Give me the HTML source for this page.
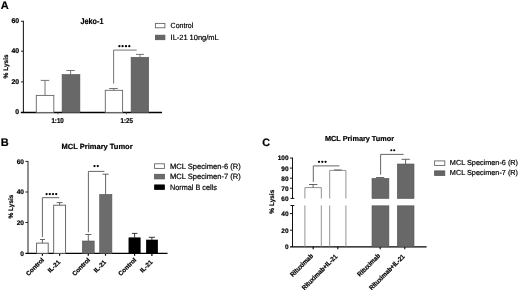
<!DOCTYPE html>
<html><head><meta charset="utf-8">
<style>
html,body{margin:0;padding:0;background:#fff;width:520px;height:290px;overflow:hidden}
svg{display:block;filter:grayscale(1) blur(0.3px)}
text{font-family:"Liberation Sans",sans-serif;fill:#000;stroke:#000;stroke-width:0.2px;text-rendering:geometricPrecision}
.b{font-weight:bold}
</style></head><body>
<svg width="520" height="290" viewBox="0 0 520 290">
<rect width="520" height="290" fill="#fff"/>

<!-- ================= PANEL A ================= -->
<text class="b" x="0.8" y="9.4" font-size="11">A</text>
<text class="b" x="80.6" y="23.6" font-size="8.3" textLength="22.8" lengthAdjust="spacingAndGlyphs">Jeko-1</text>
<!-- axes -->
<path d="M23.4 20.7V112.5" stroke="#222" stroke-width="1.1" fill="none"/>
<path d="M21 21.3H23.4M21 51.2H23.4M21 81.9H23.4" stroke="#222" stroke-width="1" fill="none"/>
<path d="M20.8 112.5H162" stroke="#000" stroke-width="1.35" fill="none"/>
<path d="M57.9 112.5V114.4M126.5 112.5V114.4" stroke="#555" stroke-width="0.9" fill="none"/>
<g class="b" font-size="6.9" text-anchor="end">
  <text x="19.2" y="23.2">60</text>
  <text x="19.2" y="53.2">40</text>
  <text x="19.2" y="83.8">20</text>
  <text x="19.2" y="114.4">0</text>
</g>
<text class="b" font-size="6.5" text-anchor="middle" transform="translate(8.1,66.4) rotate(-90)">% Lysis</text>
<g class="b" font-size="7.1">
  <text x="51.4" y="122.6" textLength="12.4" lengthAdjust="spacingAndGlyphs">1:10</text>
  <text x="120.6" y="122.6" textLength="12.4" lengthAdjust="spacingAndGlyphs">1:25</text>
</g>
<!-- bars -->
<g stroke="#666" stroke-width="0.9" fill="#fff">
  <rect x="36.3" y="95.4" width="17.5" height="17"/>
  <rect x="105.3" y="90.3" width="17.3" height="22.1"/>
</g>
<g stroke="#555" stroke-width="0.6" fill="#686868">
  <rect x="62.1" y="74.5" width="17.8" height="38"/>
  <rect x="131.1" y="57.3" width="17.6" height="55.2"/>
</g>
<g stroke="#666" stroke-width="0.9" fill="none">
  <path d="M45 95.4V80.4M40.8 80.4H49.3"/>
  <path d="M70.6 74.5V70.5M66.3 70.5H74.8"/>
  <path d="M113.8 90.3V88.5M109.2 88.5H117.8"/>
  <path d="M140 57.3V54.4M136 54.4H144"/>
  <path d="M113.6 83.6V50.1H136.7"/>
</g>
<g fill="#000"><circle cx="119.4" cy="46.2" r="1.15"/><circle cx="122.6" cy="46.2" r="1.15"/><circle cx="126.0" cy="46.2" r="1.15"/><circle cx="129.3" cy="46.2" r="1.15"/></g>
<!-- legend -->
<rect x="155.4" y="23.4" width="9.5" height="4.4" fill="#fff" stroke="#666" stroke-width="0.9"/>
<rect x="155.4" y="35.2" width="9.5" height="4.5" fill="#666" stroke="#555" stroke-width="0.8"/>
<g font-size="7.5">
  <text x="170.6" y="28" textLength="22.7" lengthAdjust="spacingAndGlyphs">Control</text>
  <text x="170.6" y="39.9" textLength="48" lengthAdjust="spacing">IL-21 10ng/mL</text>
</g>

<!-- ================= PANEL B ================= -->
<text class="b" x="0.8" y="146.2" font-size="11">B</text>
<text class="b" x="97.1" y="148.8" font-size="7.5" text-anchor="middle">MCL Primary Tumor</text>
<path d="M28 160.9V253.3" stroke="#333" stroke-width="1.1" fill="none"/>
<path d="M25.4 161.4H28M25.4 192H28M25.4 222.5H28" stroke="#222" stroke-width="1" fill="none"/>
<path d="M25.4 253.3H167.5" stroke="#000" stroke-width="1.3" fill="none"/>
<path d="M42.4 253.3V255.8M59.6 253.3V255.8M88.3 253.3V255.8M105.5 253.3V255.8M134.6 253.3V255.8M151.9 253.3V255.9" stroke="#000" stroke-width="1.2" fill="none"/>
<g class="b" font-size="6.6" text-anchor="end">
  <text x="24" y="163.8">60</text>
  <text x="24" y="194.4">40</text>
  <text x="24" y="224.8">20</text>
  <text x="24" y="255.6">0</text>
</g>
<text class="b" font-size="6.5" text-anchor="middle" transform="translate(12.9,206.5) rotate(-90)">% Lysis</text>
<g stroke="#5a5a5a" stroke-width="0.9" fill="#fff">
  <rect x="36.6" y="243.1" width="11.6" height="10.2"/>
  <rect x="53.7" y="205.2" width="11.9" height="48.1"/>
</g>
<g stroke="#555" stroke-width="0.6" fill="#6c6c6c">
  <rect x="82.3" y="241" width="11.9" height="12.3"/>
  <rect x="99.7" y="194.4" width="12.2" height="58.9"/>
</g>
<g stroke="#000" stroke-width="0.6" fill="#000">
  <rect x="128.9" y="237.8" width="11.3" height="15.5"/>
  <rect x="146.3" y="240" width="11.4" height="13.3"/>
</g>
<g stroke="#555" stroke-width="0.9" fill="none">
  <path d="M42.4 243.1V239.5M40 239.5H45"/>
  <path d="M59.6 205.2V202.6M56.7 202.6H62.6"/>
  <path d="M88.3 241V234.5M85.3 234.5H91.4"/>
  <path d="M105.6 194.4V174.2M102.5 174.2H108.7"/>
  <path d="M42.4 237V197.7H59.3"/>
  <path d="M88.4 232.3V171.4H104.3"/>
</g>
<g stroke="#222" stroke-width="0.9" fill="none">
  <path d="M134.6 237.8V233.4M131.9 233.4H137.4"/>
  <path d="M151.9 240V237.3M148.8 237.3H155"/>
</g>
<g fill="#000"><circle cx="46.6" cy="194.1" r="1.15"/><circle cx="49.8" cy="194.1" r="1.15"/><circle cx="53.0" cy="194.1" r="1.15"/><circle cx="56.2" cy="194.1" r="1.15"/></g>
<g fill="#000"><circle cx="94.5" cy="166.1" r="1.15"/><circle cx="97.8" cy="166.1" r="1.15"/></g>
<g class="b" font-size="6.3" text-anchor="end">
  <text transform="translate(44.4,260.4) rotate(-45)">Control</text>
  <text transform="translate(60.7,262.6) rotate(-45)">IL-21</text>
  <text transform="translate(90.5,260.4) rotate(-45)">Control</text>
  <text transform="translate(106.6,262.6) rotate(-45)">IL-21</text>
  <text transform="translate(136.7,260.4) rotate(-45)">Control</text>
  <text transform="translate(152.9,262.6) rotate(-45)">IL-21</text>
</g>
<rect x="154.6" y="163.8" width="9.8" height="4.6" fill="#fff" stroke="#666" stroke-width="0.9"/>
<rect x="154.6" y="174.3" width="9.8" height="4.6" fill="#6c6c6c" stroke="#555" stroke-width="0.8"/>
<rect x="154.6" y="184.9" width="9.8" height="4.6" fill="#000" stroke="#000" stroke-width="0.8"/>
<g font-size="7.7">
  <text x="170" y="168.6" textLength="70.8" lengthAdjust="spacingAndGlyphs">MCL Specimen-6 (R)</text>
  <text x="170" y="179.1" textLength="70.8" lengthAdjust="spacingAndGlyphs">MCL Specimen-7 (R)</text>
  <text x="170" y="189.8" textLength="46.8" lengthAdjust="spacingAndGlyphs">Normal B cells</text>
</g>

<!-- ================= PANEL C ================= -->
<text class="b" x="262.3" y="145.8" font-size="10.8">C</text>
<text class="b" x="359.5" y="141.4" font-size="7.3" text-anchor="middle">MCL Primary Tumor</text>
<g stroke="#111" stroke-width="1" fill="none">
  <path d="M292.5 157.6V198.4M290.5 198.4H294.3"/>
  <path d="M292.5 205.5V246.8M290.5 205.5H294.3"/>
  <path d="M290 158.1H292.5M290 168.1H292.5M290 178.2H292.5M290 188.2H292.5"/>
  <path d="M290 213.6H292.5M290 230.2H292.5"/>
</g>
<path d="M290 246.85H426.6" stroke="#000" stroke-width="1.3" fill="none"/>
<path d="M313.2 246.8V249.2M337.8 246.8V249.2M380.2 246.8V249.2M404.8 246.8V249.2" stroke="#000" stroke-width="1.1" fill="none"/>
<g class="b" font-size="6.5" text-anchor="end">
  <text x="288.6" y="160.4">100</text>
  <text x="288.6" y="170.5">90</text>
  <text x="288.6" y="180.6">80</text>
  <text x="288.6" y="190.6">70</text>
  <text x="288.6" y="200.7">60</text>
  <text x="288.6" y="216">40</text>
  <text x="288.6" y="232.6">20</text>
  <text x="288.6" y="249.1">0</text>
</g>
<text class="b" font-size="6.5" text-anchor="middle" transform="translate(274.4,201.7) rotate(-90)">% Lysis</text>
<!-- white bars (broken) -->
<g stroke="#888" stroke-width="0.9">
  <path d="M304.9 198.5V187.6H321.3V198.5" fill="#fff"/>
  <path d="M329.7 198.5V170.4H345.9V198.5" fill="#fff"/>
  <path d="M304.9 246.8V205.5M321.3 246.8V205.5M329.7 246.8V205.5M345.9 246.8V205.5" fill="none"/>
</g>
<g fill="#686868" stroke="#555" stroke-width="0.6">
  <rect x="372" y="178.4" width="16.9" height="20.1"/>
  <rect x="397.3" y="164" width="16.7" height="34.5"/>
  <rect x="372" y="205.8" width="16.9" height="41"/>
  <rect x="397.3" y="205.8" width="16.7" height="41"/>
</g>
<g stroke="#555" stroke-width="0.9" fill="none">
  <path d="M313.1 187.6V184.5M309 184.5H317.4"/>
  <path d="M334 170H341.6"/>
  <path d="M380.1 178.4V177.5M376 177.5H384.2"/>
  <path d="M405.6 164V159.3M401.6 159.3H409.8"/>
  <path d="M313.3 181.9V165.9H339.4"/>
  <path d="M380.6 174.7V154.4H403.6"/>
</g>
<g fill="#000"><circle cx="319.0" cy="161.8" r="1.15"/><circle cx="322.3" cy="161.8" r="1.15"/><circle cx="325.6" cy="161.8" r="1.15"/></g>
<g fill="#000"><circle cx="391.3" cy="150.2" r="1.05"/><circle cx="394.2" cy="150.2" r="1.05"/></g>
<g class="b" font-size="6.7" text-anchor="end">
  <text transform="translate(313.6,256.4) rotate(-45)" textLength="29.5" lengthAdjust="spacingAndGlyphs">Rituximab</text>
  <text transform="translate(337.9,257) rotate(-45)" textLength="47.3" lengthAdjust="spacingAndGlyphs">Rituximab+IL-21</text>
  <text transform="translate(380.7,256.2) rotate(-45)" textLength="29.5" lengthAdjust="spacingAndGlyphs">Rituximab</text>
  <text transform="translate(405.2,257) rotate(-45)" textLength="47.3" lengthAdjust="spacingAndGlyphs">Rituximab+IL-21</text>
</g>
<rect x="434.6" y="160.9" width="10.2" height="4.5" fill="#fff" stroke="#666" stroke-width="0.9"/>
<rect x="434.6" y="170.9" width="10.2" height="4.5" fill="#666" stroke="#555" stroke-width="0.8"/>
<g font-size="7.3">
  <text x="449.8" y="165.4">MCL Specimen-6 (R)</text>
  <text x="449.8" y="175.3">MCL Specimen-7 (R)</text>
</g>
</svg>
</body></html>
